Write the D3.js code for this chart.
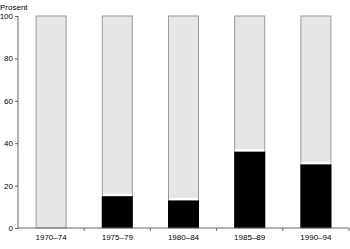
<!DOCTYPE html>
<html>
<head>
    <meta charset="utf-8" />
    <title></title>
    <style>
        body { margin: 0; background: #fff; }
        text { font-family: "Liberation Sans", Arial, sans-serif; font-size: 8px; fill: #000; }
        .axis path, .axis line { stroke: #666; }
    </style>
</head>
<body>
    <div id="chart"></div>
    <script src="https://cdn.jsdelivr.net/npm/d3@7"></script>
    <script>
        var periods = ["1970\u201374", "1975\u201379", "1980\u201384", "1985\u201389", "1990\u201394"];
        var shares = [0, 15, 13, 36, 30];
        var yTicks = [0, 20, 40, 60, 80, 100];

        var width = 350, height = 249;
        var x = d3.scaleBand().domain(periods).range([18, 349]);
        var y = d3.scaleLinear().domain([0, 100]).range([228, 16]);
        var barW = 30;

        var svg = d3.select("#chart").append("svg")
            .attr("width", width)
            .attr("height", height);

        svg.append("text")
            .attr("x", 0)
            .attr("y", 10)
            .text("Prosent");

        // background bars (100 %)
        svg.append("g")
            .selectAll("rect")
            .data(periods)
            .join("rect")
            .attr("x", d => x(d) + (x.bandwidth() - barW) / 2)
            .attr("y", y(100))
            .attr("width", barW)
            .attr("height", y(0) - y(100))
            .attr("fill", "#e6e6e6")
            .attr("stroke", "#9a9a9a")
            .attr("stroke-width", 1);

        // black share with a white gap on top
        var data = periods.map((p, i) => ({ p: p, v: shares[i] })).filter(d => d.v > 0);
        var g = svg.append("g");
        g.selectAll(".gap")
            .data(data)
            .join("rect")
            .attr("x", d => x(d.p) + (x.bandwidth() - barW) / 2 + 0.5)
            .attr("y", d => y(d.v) - 2.5)
            .attr("width", barW - 1)
            .attr("height", 2.5)
            .attr("fill", "#fff");
        g.selectAll(".blk")
            .data(data)
            .join("rect")
            .attr("x", d => x(d.p) + (x.bandwidth() - barW) / 2 - 0.5)
            .attr("y", d => y(d.v))
            .attr("width", barW + 1)
            .attr("height", d => y(0) - y(d.v))
            .attr("fill", "#000");

        // y axis
        var yAxis = svg.append("g")
            .attr("class", "axis")
            .attr("transform", "translate(18,0)")
            .call(d3.axisLeft(y).tickValues(yTicks).tickSize(3).tickPadding(2));
        yAxis.select(".domain").attr("d", "M0," + y(100) + "V" + y(0));

        // x axis with ticks between bands
        var xg = svg.append("g").attr("class", "axis");
        xg.append("line")
            .attr("x1", 18).attr("x2", 349)
            .attr("y1", y(0)).attr("y2", y(0));
        xg.selectAll(".sep")
            .data(periods)
            .join("line")
            .attr("x1", d => x(d) + x.bandwidth())
            .attr("x2", d => x(d) + x.bandwidth())
            .attr("y1", y(0)).attr("y2", y(0) + 3);
        xg.selectAll(".lab")
            .data(periods)
            .join("text")
            .attr("x", d => x(d) + x.bandwidth() / 2)
            .attr("y", y(0) + 12)
            .attr("text-anchor", "middle")
            .text(d => d);
    </script>
</body>
</html>
